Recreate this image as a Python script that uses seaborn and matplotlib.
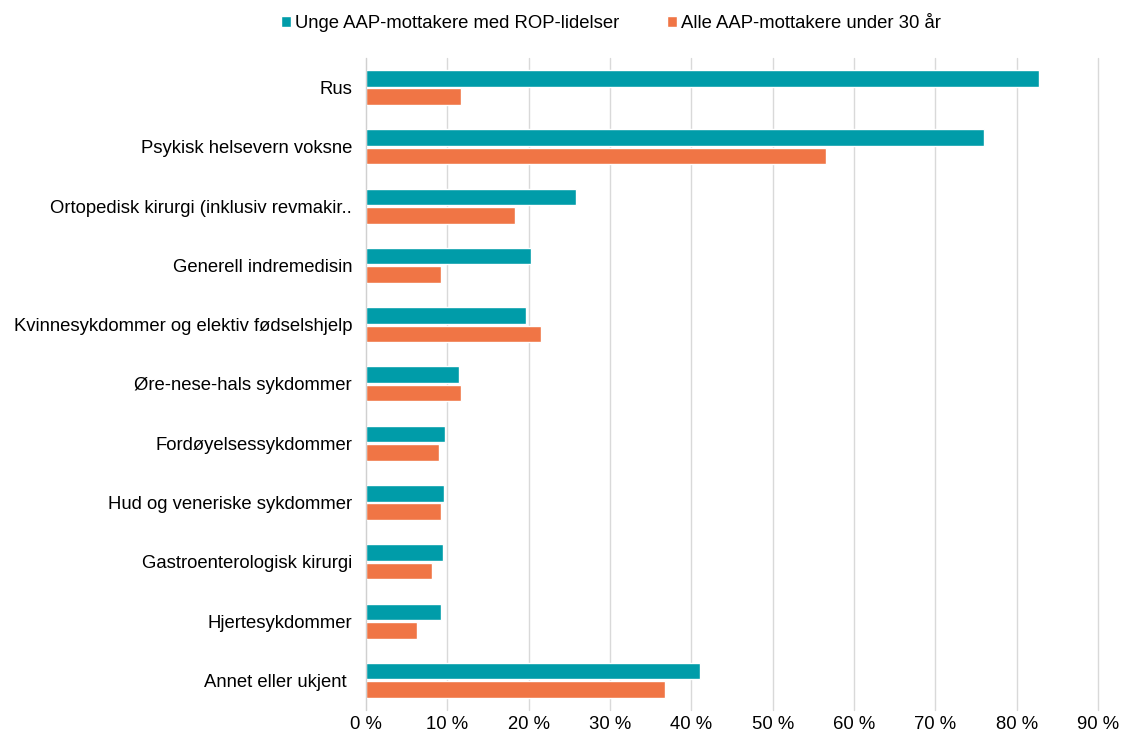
import numpy as np
import pandas as pd
import matplotlib
matplotlib.use("Agg")
import matplotlib.pyplot as plt
import seaborn as sns
from matplotlib.ticker import FuncFormatter

# --- data (percent) ---
categories = [
    "Rus",
    "Psykisk helsevern voksne",
    "Ortopedisk kirurgi (inklusiv revmakir..",
    "Generell indremedisin",
    "Kvinnesykdommer og elektiv fødselshjelp",
    "Øre-nese-hals sykdommer",
    "Fordøyelsessykdommer",
    "Hud og veneriske sykdommer",
    "Gastroenterologisk kirurgi",
    "Hjertesykdommer",
    "Annet eller ukjent ",
]
series_names = ["Unge AAP-mottakere med ROP-lidelser", "Alle AAP-mottakere under 30 år"]
rop_values = [82.8, 76.0, 25.8, 20.3, 19.7, 11.4, 9.7, 9.65, 9.45, 9.2, 41.1]
all_values = [11.7, 56.5, 18.3, 9.2, 21.5, 11.7, 9.0, 9.2, 8.1, 6.3, 36.7]
x_ticks = [0, 10, 20, 30, 40, 50, 60, 70, 80, 90]
colors = ["#009CA9", "#F07545"]

df = pd.DataFrame({
    "kategori": categories * 2,
    "serie": [series_names[0]] * len(categories) + [series_names[1]] * len(categories),
    "andel": rop_values + all_values,
})

# --- style ---
sns.set_style("white")
plt.rcParams["font.family"] = ["Liberation Sans", "DejaVu Sans"]
plt.rcParams["text.color"] = "black"
plt.rcParams["xtick.color"] = "black"
plt.rcParams["ytick.color"] = "black"

fig = plt.figure(figsize=(11.21, 7.32), dpi=100)
ax = fig.add_axes([0.3265, 0.030, 0.653, 0.891])

sns.barplot(data=df, y="kategori", x="andel", hue="serie", order=categories,
            hue_order=series_names, palette=colors, orient="h",
            width=0.62, gap=0.1, saturation=1, ax=ax, legend=True)

ax.set_xlim(0, 90)
ax.set_xticks(x_ticks)
ax.xaxis.set_major_formatter(FuncFormatter(lambda v, _: f"{int(v)} %"))
ax.grid(axis="x", color="#d9d9d9", linewidth=1)
for gl in ax.get_xgridlines():
    gl.set_clip_on(False)
ax.set_axisbelow(True)
for s in ["top", "right", "bottom"]:
    ax.spines[s].set_visible(False)
ax.spines["left"].set_color("#d0d0d0")
ax.tick_params(axis="y", length=0, pad=10, labelsize=13.3)
ax.tick_params(axis="x", length=0, pad=4, labelsize=13.3)
ax.set_xlabel("")
ax.set_ylabel("")

handles, labels = ax.get_legend_handles_labels()
ax.get_legend().remove()
fig.legend(handles, labels, loc="center", bbox_to_anchor=(0.545, 0.968), ncol=2,
           frameon=False, fontsize=13.3, handlelength=0.55, handleheight=0.55,
           handletextpad=0.2, columnspacing=2.6)

fig.savefig("out.png", dpi=100)
